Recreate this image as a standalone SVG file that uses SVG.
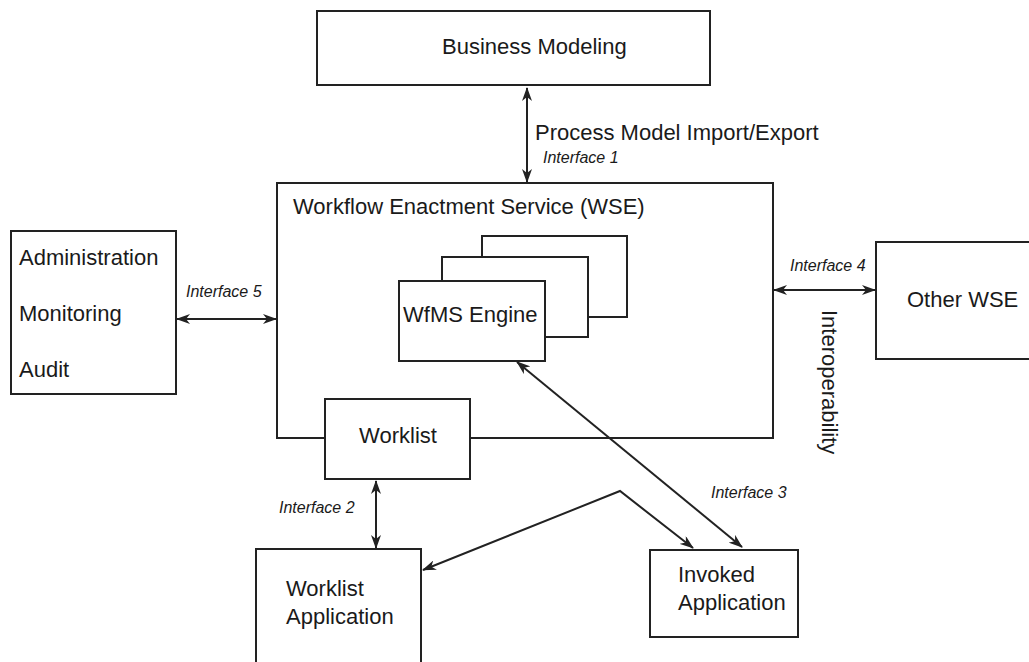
<svg xmlns="http://www.w3.org/2000/svg" width="1029" height="662" viewBox="0 0 1029 662">
  <style>
    .box { fill: #fff; stroke: #222; stroke-width: 2; }
    .lbl { font-family: "Liberation Sans", Arial, sans-serif; font-size: 22px; fill: #1a1a1a; }
    .ifc { font-family: "Liberation Sans", Arial, sans-serif; font-size: 16px; font-style: italic; fill: #1a1a1a; }
    .con { fill: none; stroke: #222; stroke-width: 2; }
  </style>
  <defs>
    <marker id="ah" viewBox="0 0 14 10" refX="13" refY="5" markerWidth="14" markerHeight="10" orient="auto-start-reverse" markerUnits="userSpaceOnUse">
      <path d="M0,0 L14,5 L0,10 L4,5 Z" fill="#222"/>
    </marker>
  </defs>
  <rect width="1029" height="662" fill="#fff"/>

  <g id="business-modeling">
    <rect class="box" x="317" y="11" width="393" height="74"/>
    <text class="lbl" x="442" y="54">Business Modeling</text>
  </g>

  <g id="wse">
    <rect class="box" x="277" y="183" width="496" height="255"/>
    <text class="lbl" x="293" y="214">Workflow Enactment Service (WSE)</text>
  </g>

  <g id="wfms-engine">
    <rect class="box" x="482" y="236" width="145" height="81"/>
    <rect class="box" x="442" y="257" width="146" height="80"/>
    <rect class="box" x="399" y="281" width="146" height="80"/>
    <text class="lbl" x="403" y="322">WfMS Engine</text>
  </g>

  <g id="worklist">
    <rect class="box" x="325" y="399" width="145" height="80"/>
    <text class="lbl" x="398" y="443" text-anchor="middle">Worklist</text>
  </g>

  <g id="admin">
    <rect class="box" x="11" y="231" width="165" height="163"/>
    <text class="lbl" x="19" y="265">Administration</text>
    <text class="lbl" x="19" y="321">Monitoring</text>
    <text class="lbl" x="19" y="377">Audit</text>
  </g>

  <g id="other-wse">
    <rect class="box" x="876" y="242" width="170" height="117"/>
    <text class="lbl" x="907" y="307">Other WSE</text>
  </g>

  <g id="worklist-application">
    <rect class="box" x="256" y="549" width="165" height="130"/>
    <text class="lbl" x="286" y="596">Worklist</text>
    <text class="lbl" x="286" y="624">Application</text>
  </g>

  <g id="invoked-application">
    <rect class="box" x="650" y="550" width="148" height="87"/>
    <text class="lbl" x="678" y="582">Invoked</text>
    <text class="lbl" x="678" y="610">Application</text>
  </g>

  <g id="connectors">
    <line class="con" x1="527" y1="88" x2="527" y2="182" marker-start="url(#ah)" marker-end="url(#ah)"/>
    <line class="con" x1="177" y1="319" x2="276" y2="319" marker-start="url(#ah)" marker-end="url(#ah)"/>
    <line class="con" x1="774" y1="290" x2="875" y2="290" marker-start="url(#ah)" marker-end="url(#ah)"/>
    <line class="con" x1="376" y1="481" x2="376" y2="548" marker-start="url(#ah)" marker-end="url(#ah)"/>
    <line class="con" x1="517" y1="362" x2="742" y2="547" marker-start="url(#ah)" marker-end="url(#ah)"/>
    <polyline class="con" points="423,570 620,491 693,548" marker-start="url(#ah)" marker-end="url(#ah)"/>
  </g>

  <g id="labels">
    <text class="lbl" x="535" y="140">Process Model Import/Export</text>
    <text class="ifc" x="543" y="163">Interface 1</text>
    <text class="ifc" x="186" y="297">Interface 5</text>
    <text class="ifc" x="790" y="271">Interface 4</text>
    <text class="ifc" x="279" y="513">Interface 2</text>
    <text class="ifc" x="711" y="498">Interface 3</text>
    <text class="lbl" transform="translate(822,310) rotate(90)">Interoperability</text>
  </g>
</svg>
